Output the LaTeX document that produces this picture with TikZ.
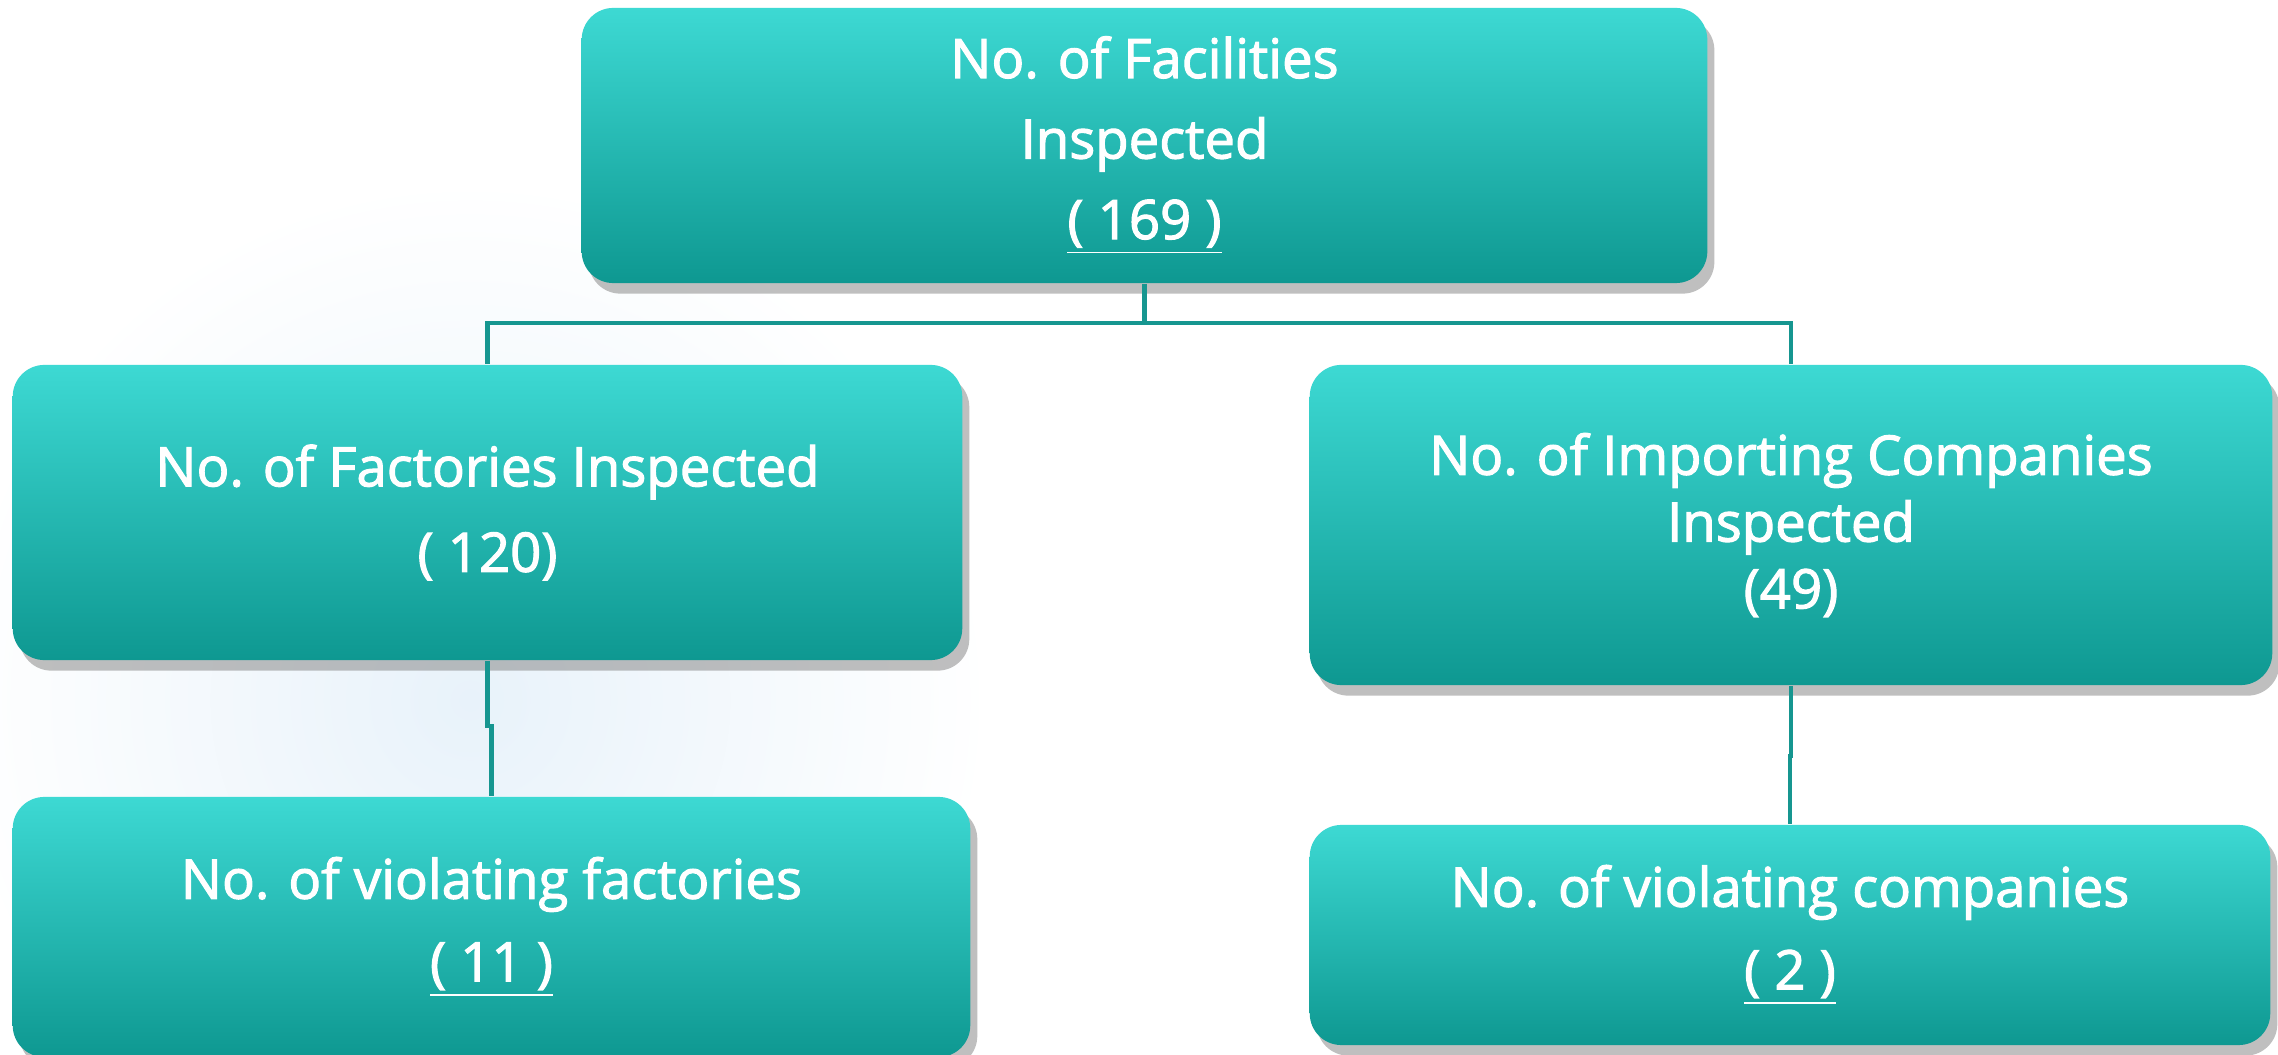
\documentclass[tikz,border=0pt]{standalone}
\usepackage{fontspec}
\setmainfont{Open Sans}
\newfontfamily\boxfont{Open Sans}[FakeBold=2]
\usetikzlibrary{shadows, positioning}

\definecolor{boxtop}{RGB}{61,217,211}
\definecolor{boxbot}{RGB}{14,152,145}
\definecolor{linkcol}{RGB}{22,150,144}
\definecolor{glow}{RGB}{232,242,250}

\tikzset{
    orgbox/.style={rectangle, rounded corners=9pt, top color=boxtop, bottom color=boxbot,
        text=white, align=center, inner sep=0pt,
        font=\boxfont\fontsize{15.5}{19}\selectfont,
        drop shadow={shadow xshift=2pt, shadow yshift=-3pt, opacity=0.5}},
    link/.style={draw=linkcol, line width=1.2pt}
}

\begin{document}
\begin{tikzpicture}[x=0.01cm, y=-0.01cm]
\useasboundingbox (0,0) rectangle (2278,1055);
% Background glow
\fill[white] (0,0) rectangle (2278,1055);
\shade[inner color=glow, outer color=white] (470,700) circle (520);
% Boxes
\node[orgbox, minimum width=11.25cm, minimum height=2.75cm] (facilities) at (1144.5,145.5)
    {No. of Facilities\\[3.9pt] Inspected\\[3.9pt] \underline{( 169 )}};
\node[orgbox, minimum width=9.49cm, minimum height=2.95cm] (factories) at (487.5,512.5)
    {No. of Factories Inspected\\[5.3pt] ( 120)};
\node[orgbox, minimum width=9.62cm, minimum height=3.2cm] (importers) at (1791,525)
    {No. of Importing Companies\\ Inspected\\ (49)};
\node[orgbox, minimum width=9.57cm, minimum height=2.6cm] (violfact) at (491.5,927)
    {No. of violating factories\\[4.5pt] \underline{( 11 )}};
\node[orgbox, minimum width=9.6cm, minimum height=2.2cm] (violcomp) at (1790,935)
    {No. of violating companies\\[4.5pt] \underline{( 2 )}};
% Connectors
\draw[link] (facilities.south) -- ++(0,39) -| (factories.north);
\draw[link] (facilities.south) -- ++(0,39) -| (importers.north);
\draw[link] (factories.south) -- ++(0,65) -| (violfact.north);
\draw[link] (importers.south) -- ++(0,70) -| (violcomp.north);
\end{tikzpicture}
\end{document}
